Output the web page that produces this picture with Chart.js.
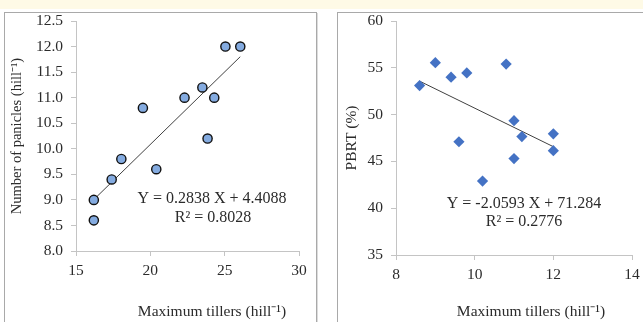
<!DOCTYPE html>
<html>
<head>
<meta charset="utf-8">
<script src="https://cdn.jsdelivr.net/npm/chart.js@4"></script>
<style>
  html, body { margin: 0; padding: 0; background: #ffffff; width: 643px; height: 322px; overflow: hidden; }
  #band { position: absolute; left: 0; top: 0; width: 643px; height: 9px; background: #fefae6; }
  .panel { position: absolute; border: 1px solid #a9a9a9; box-shadow: 1px 1px 0 #dcdcdc; background: #fff; }
  #p1 { left: 4px; top: 12px; width: 311px; height: 320px; }
  #p2 { left: 337px; top: 12px; width: 320px; height: 320px; }
  canvas { position: absolute; }
  #c1 { left: 5px; top: 13px; }
  #c2 { left: 338px; top: 13px; }
</style>
</head>
<body>
<div id="band"></div>
<div class="panel" id="p1"></div>
<div class="panel" id="p2"></div>
<canvas id="c1" width="311" height="309"></canvas>
<canvas id="c2" width="305" height="309"></canvas>
<script>
// ---- Data ----
// Left panel: Number of panicles vs Maximum tillers
const tillers  = [16.2, 16.2, 17.4, 18.05, 19.5, 20.4, 22.3, 23.5, 23.85, 24.3, 25.05, 26.05];
const panicles = [9.0, 8.6, 9.4, 9.8, 10.8, 9.6, 11.0, 11.2, 10.2, 11.0, 12.0, 12.0];
const leftSlope = 0.2838, leftIntercept = 4.4088;
const leftEq = ['Y = 0.2838 X + 4.4088', 'R² = 0.8028'];
const leftXTicks = [15, 20, 25, 30];
const leftYTicks = [8.0, 8.5, 9.0, 9.5, 10.0, 10.5, 11.0, 11.5, 12.0, 12.5];

// Right panel: PBRT (%) vs x
const pbrtX = [8.6, 9.0, 9.4, 9.8, 9.6, 10.2, 10.8, 11.0, 11.2, 11.0, 12.0, 12.0];
const pbrtY = [53.1, 55.55, 54.0, 54.45, 47.1, 42.9, 55.4, 49.35, 47.65, 45.3, 47.95, 46.15];
const rightSlope = -2.0593, rightIntercept = 71.284;
const rightEq = ['Y = -2.0593 X + 71.284', 'R² = 0.2776'];
const rightXTicks = [8, 10, 12, 14];
const rightYTicks = [35, 40, 45, 50, 55, 60];

const xTitle = 'Maximum tillers (hill\u207B\u00B9)';
const leftYTitle = 'Number of panicles (hill\u207B\u00B9)';
const rightYTitle = 'PBRT (%)';

// ---- helpers ----
const FONT = "'Liberation Serif', 'Times New Roman', serif";
const TXT = '#2b2b2b';
const AXIS = '#c4c4c4';

function pts(xs, ys) { return xs.map((x, i) => ({ x: x, y: ys[i] })); }
function trend(xs, m, b) {
  const lo = Math.min(...xs), hi = Math.max(...xs);
  return [{ x: lo, y: m * lo + b }, { x: hi, y: m * hi + b }];
}

const textPlugin = {
  id: 'textPlugin',
  afterDraw(chart, args, opts) {
    const ctx = chart.ctx;
    ctx.save();
    ctx.fillStyle = TXT;
    ctx.textAlign = 'center';
    ctx.textBaseline = 'middle';
    (opts.items || []).forEach(it => {
      ctx.font = it.size + 'px ' + FONT;
      ctx.fillText(it.text, it.x, it.y);
    });
    ctx.restore();
  }
};

function makeChart(id, cfg) {
  const fixScale = (w, h) => (scale) => {
    if (w != null) scale.width = w;
    if (h != null) scale.height = h;
    scale.paddingTop = 0; scale.paddingBottom = 0;
    scale.paddingLeft = 0; scale.paddingRight = 0;
  };
  const fmt = cfg.yDecimals;
  return new Chart(document.getElementById(id), {
    data: {
      datasets: [
        {
          type: 'scatter',
          data: pts(cfg.xs, cfg.ys),
          pointStyle: cfg.pointStyle,
          pointRadius: cfg.radius,
          pointHoverRadius: cfg.radius,
          backgroundColor: cfg.fill,
          borderColor: cfg.stroke,
          borderWidth: cfg.strokeW,
          order: 1
        },
        {
          type: 'line',
          data: trend(cfg.xs, cfg.m, cfg.b),
          borderColor: '#404040',
          borderWidth: 1,
          pointRadius: 0,
          fill: false,
          order: 2
        }
      ]
    },
    options: {
      responsive: false,
      animation: false,
      devicePixelRatio: 1,
      layout: { padding: { left: 0, top: 8, right: cfg.padRight, bottom: 0 } },
      plugins: {
        legend: { display: false },
        tooltip: { enabled: false },
        textPlugin: { items: cfg.texts }
      },
      scales: {
        x: {
          type: 'linear',
          position: 'bottom',
          min: cfg.xTicks[0], max: cfg.xTicks[cfg.xTicks.length - 1],
          afterBuildTicks: (s) => { s.ticks = cfg.xTicks.map(v => ({ value: v })); },
          afterFit: fixScale(null, cfg.xHeight),
          grid: { drawOnChartArea: false, drawTicks: true, tickLength: 5, color: AXIS },
          border: { color: AXIS, width: 1 },
          ticks: { color: TXT, font: { family: FONT, size: 15.5 }, padding: 6, maxRotation: 0,
                   callback: (v) => String(v) }
        },
        y: {
          type: 'linear',
          min: cfg.yTicks[0], max: cfg.yTicks[cfg.yTicks.length - 1],
          afterBuildTicks: (s) => { s.ticks = cfg.yTicks.map(v => ({ value: v })); },
          afterFit: fixScale(cfg.yWidth, null),
          grid: { drawOnChartArea: false, drawTicks: true, tickLength: 5, color: AXIS },
          border: { color: AXIS, width: 1 },
          ticks: { color: TXT, font: { family: FONT, size: 15.5 }, padding: 8,
                   callback: (v) => Number(v).toFixed(fmt) },
          title: { display: true, text: cfg.yTitle, color: TXT,
                   font: { family: FONT, size: cfg.yTitleSize }, padding: { top: cfg.yTitlePad, bottom: 0 } }
        }
      }
    },
    plugins: [textPlugin]
  });
}

makeChart('c1', {
  xs: tillers, ys: panicles, m: leftSlope, b: leftIntercept,
  pointStyle: 'circle', radius: 4.6, fill: '#84abe0', stroke: '#111111', strokeW: 1.4,
  xTicks: leftXTicks, yTicks: leftYTicks, yDecimals: 1,
  yWidth: 71, xHeight: 71, padRight: 17, yTitlePad: 3, yTitleSize: 14.5, yTitle: leftYTitle,
  texts: [
    { text: leftEq[0], x: 207, y: 186, size: 16 },
    { text: leftEq[1], x: 208, y: 205, size: 16 },
    { text: xTitle, x: 207, y: 299, size: 15.5 }
  ]
});

makeChart('c2', {
  xs: pbrtX, ys: pbrtY, m: rightSlope, b: rightIntercept,
  pointStyle: 'rectRot', radius: 5.6, fill: '#4472c4', stroke: '#4472c4', strokeW: 0,
  xTicks: rightXTicks, yTicks: rightYTicks, yDecimals: 0,
  yWidth: 58, xHeight: 67, padRight: 11, yTitlePad: 5, yTitleSize: 15.5, yTitle: rightYTitle,
  texts: [
    { text: rightEq[0], x: 186, y: 191, size: 16 },
    { text: rightEq[1], x: 186, y: 209, size: 16 },
    { text: xTitle, x: 193, y: 299, size: 15.5 }
  ]
});
</script>
</body>
</html>
